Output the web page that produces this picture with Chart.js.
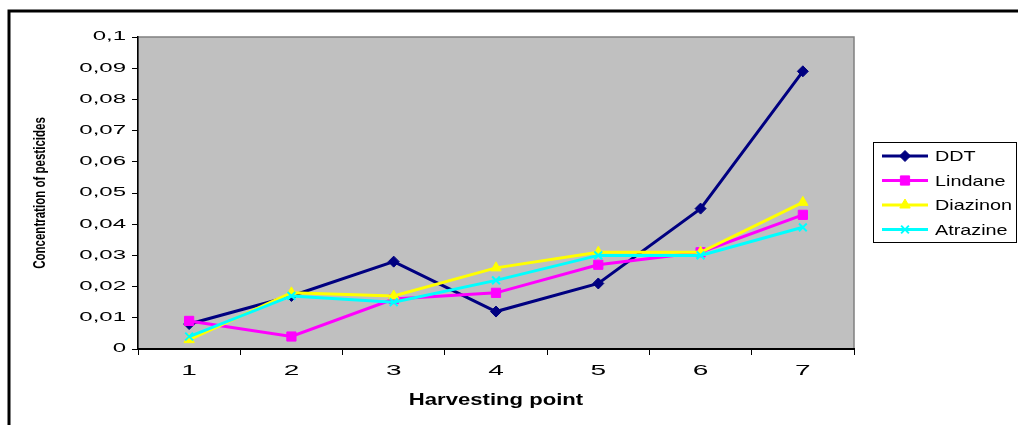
<!DOCTYPE html>
<html>
<head>
<meta charset="utf-8">
<script src="https://cdn.jsdelivr.net/npm/chart.js@4/dist/chart.umd.min.js"></script>
<style>
  html, body { margin: 0; padding: 0; background: #fff; overflow: hidden; }
  canvas { display: block; }
</style>
</head>
<body>
<canvas id="chart" width="1018" height="425" style="width:1018px;height:425px"></canvas>
<script>
// Pesticide concentration at each harvesting point
const harvestPoints = ['1', '2', '3', '4', '5', '6', '7'];
const seriesNames   = ['DDT', 'Lindane', 'Diazinon', 'Atrazine'];
const ddt      = [0.008, 0.017, 0.028, 0.012, 0.021, 0.045, 0.089];
const lindane  = [0.009, 0.004, 0.016, 0.018, 0.027, 0.031, 0.043];
const diazinon = [0.003, 0.018, 0.017, 0.026, 0.031, 0.031, 0.047];
const atrazine = [0.004, 0.017, 0.015, 0.022, 0.030, 0.030, 0.039];
const yMin = 0, yMax = 0.1, yStep = 0.01;

const FONT = '"Liberation Sans", Arial, sans-serif';

// Lettering width: glyphs are scaled horizontally by a factor chosen from the font size.
const WIDEN = { 12: 2.0, 14: 2.0, 15: 1.32, 17: 1.3, 16: 0.72 };
function widenText(ctx) {
  const fill = ctx.fillText.bind(ctx);
  const measure = ctx.measureText.bind(ctx);
  const factor = () => {
    const m = /(\d+(?:\.\d+)?)px/.exec(ctx.font);
    return m ? (WIDEN[Math.round(+m[1])] || 1) : 1;
  };
  ctx.fillText = function (text, x, y, maxWidth) {
    const k = factor();
    if (k === 1) return maxWidth === undefined ? fill(text, x, y) : fill(text, x, y, maxWidth);
    ctx.save();
    ctx.translate(x, y);
    ctx.scale(k, 1);
    if (maxWidth === undefined) fill(text, 0, 0); else fill(text, 0, 0, maxWidth / k);
    ctx.restore();
  };
  ctx.measureText = function (text) {
    const m = measure(text);
    const k = factor();
    if (k === 1) return m;
    return {
      width: m.width * k,
      actualBoundingBoxAscent: m.actualBoundingBoxAscent,
      actualBoundingBoxDescent: m.actualBoundingBoxDescent,
      actualBoundingBoxLeft: m.actualBoundingBoxLeft * k,
      actualBoundingBoxRight: m.actualBoundingBoxRight * k
    };
  };
}

// White page, outer frame and grey plot area
const backdrop = {
  id: 'backdrop',
  beforeDraw(chart) {
    const { ctx, chartArea: a } = chart;
    ctx.save();
    ctx.fillStyle = '#ffffff';
    ctx.fillRect(0, 0, chart.width, chart.height);
    ctx.strokeStyle = '#000000';
    ctx.lineWidth = 3;
    ctx.beginPath();
    ctx.moveTo(9, chart.height + 10);
    ctx.lineTo(9, 11);
    ctx.lineTo(chart.width + 10, 11);
    ctx.stroke();
    ctx.fillStyle = '#c0c0c0';
    ctx.fillRect(a.left, a.top, a.right - a.left, a.bottom - a.top);
    ctx.strokeStyle = '#808080';
    ctx.lineWidth = 1.5;
    ctx.strokeRect(a.left, a.top, a.right - a.left, a.bottom - a.top);
    ctx.restore();
  }
};

// Boxed legend with line + marker samples
const boxLegend = {
  id: 'boxLegend',
  afterDraw(chart, args, o) {
    const ctx = chart.ctx;
    ctx.save();
    ctx.fillStyle = '#ffffff';
    ctx.fillRect(o.x, o.y, o.w, o.h);
    ctx.strokeStyle = '#000000';
    ctx.lineWidth = 1;
    ctx.strokeRect(o.x + 0.5, o.y + 0.5, o.w - 1, o.h - 1);
    chart.data.datasets.forEach((ds, i) => {
      const cy = o.y + o.firstRow + i * o.rowGap;
      ctx.strokeStyle = ds.borderColor;
      ctx.lineWidth = ds.borderWidth;
      ctx.beginPath();
      ctx.moveTo(o.x + o.lineFrom, cy);
      ctx.lineTo(o.x + o.lineTo, cy);
      ctx.stroke();
      ctx.fillStyle = ds.pointBackgroundColor;
      ctx.strokeStyle = ds.pointBorderColor;
      ctx.lineWidth = ds.pointBorderWidth;
      Chart.helpers.drawPoint(ctx, {
        pointStyle: ds.pointStyle, radius: ds.pointRadius, rotation: 0, borderWidth: ds.pointBorderWidth
      }, o.x + (o.lineFrom + o.lineTo) / 2, cy);
      ctx.fillStyle = '#000000';
      ctx.font = '15px ' + FONT;
      ctx.textAlign = 'left';
      ctx.textBaseline = 'middle';
      ctx.fillText(ds.label, o.x + o.textX, cy + 1);
    });
    ctx.restore();
  }
};

function series(label, data, color, style, radius, borderW, order) {
  return {
    label, data, order,
    borderColor: color, backgroundColor: color,
    borderWidth: 3,
    pointStyle: style, pointRadius: radius, pointHoverRadius: radius,
    pointBackgroundColor: color, pointBorderColor: color, pointBorderWidth: borderW,
    tension: 0, fill: false
  };
}

const canvas = document.getElementById('chart');
widenText(canvas.getContext('2d'));

new Chart(canvas, {
  type: 'line',
  data: {
    labels: harvestPoints,
    datasets: [
      series(seriesNames[0], ddt,      '#000080', 'rectRot',  5.5, 1, 3),
      series(seriesNames[1], lindane,  '#ff00ff', 'rect',     6.5, 1, 2),
      series(seriesNames[2], diazinon, '#ffff00', 'triangle', 6,   1, 1),
      series(seriesNames[3], atrazine, '#00ffff', 'crossRot', 5.5, 2, 0)
    ]
  },
  options: {
    responsive: false,
    animation: false,
    devicePixelRatio: 1,
    layout: { padding: { top: 37, right: 164, bottom: 0, left: 0 } },
    plugins: {
      legend: { display: false },
      tooltip: { enabled: false },
      boxLegend: { x: 873, y: 142, w: 144, h: 101, firstRow: 14, rowGap: 24.5, lineFrom: 9, lineTo: 55, textX: 62 }
    },
    scales: {
      x: {
        offset: true,
        afterFit(scale) { scale.height = 76; },
        grid: { offset: true, drawOnChartArea: false, drawTicks: true, tickLength: 6, color: '#000000', lineWidth: 1 },
        border: { display: true, color: '#000000', width: 2 },
        ticks: { color: '#000000', font: { family: FONT, size: 14 }, padding: 8, maxRotation: 0, autoSkip: false },
        title: { display: true, text: 'Harvesting point', color: '#000000',
                 font: { family: FONT, size: 17, weight: 'bold' }, padding: { top: 0, bottom: 14 } }
      },
      y: {
        min: yMin, max: yMax,
        afterFit(scale) { scale.width = 138; },
        grid: { drawOnChartArea: false, drawTicks: true, tickLength: 6, color: '#000000', lineWidth: 1 },
        border: { display: true, color: '#000000', width: 1.5 },
        ticks: {
          stepSize: yStep, color: '#000000', font: { family: FONT, size: 12 }, padding: 6,
          callback: v => String(Number(v.toFixed(2))).replace('.', ',')
        },
        title: { display: true, text: 'Concentration of pesticides', color: '#000000',
                 font: { family: FONT, size: 16, weight: 'bold' }, padding: { top: 31, bottom: 0 } }
      }
    }
  },
  plugins: [backdrop, boxLegend]
});
</script>
</body>
</html>
